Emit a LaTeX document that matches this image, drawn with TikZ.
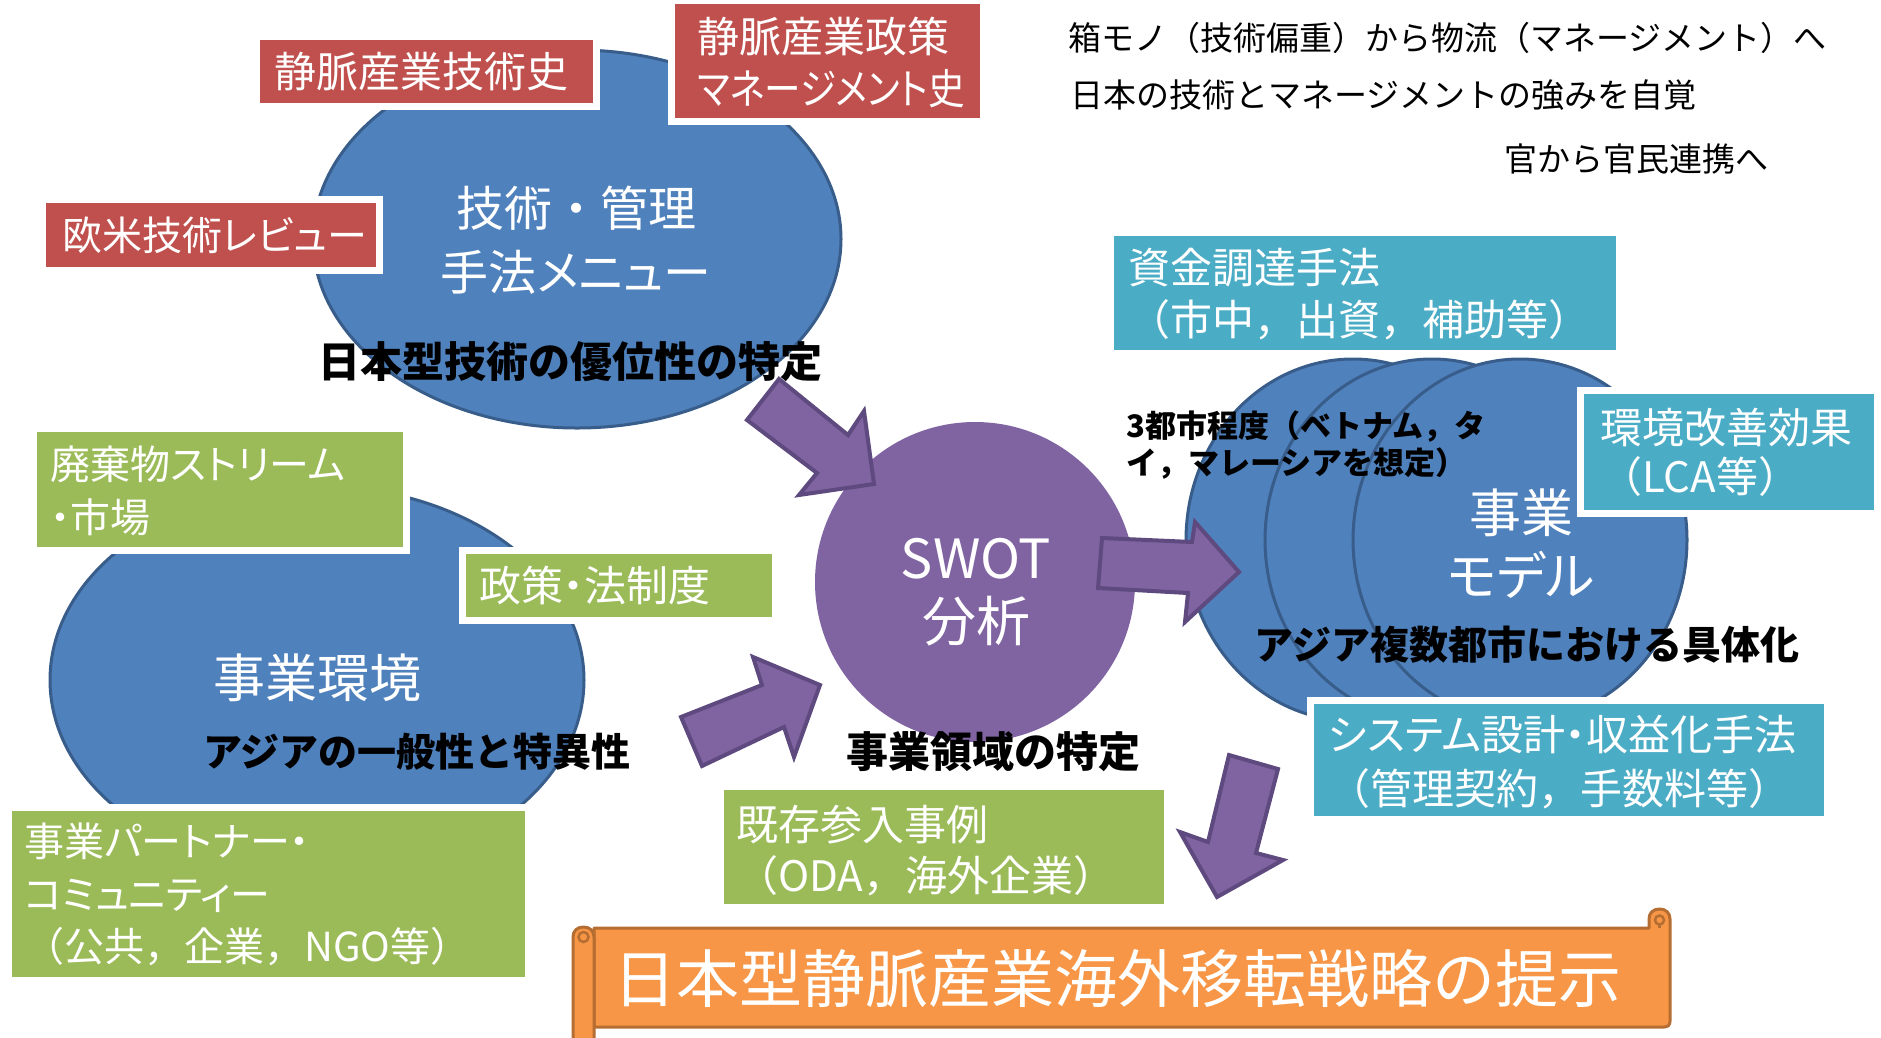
\documentclass[tikz,border=0pt]{standalone}
\usepackage{fontspec}
\setmainfont{Noto Sans CJK JP}
\newfontfamily\jpp[RawFeature=+palt]{Noto Sans CJK JP}
\newfontfamily\jpn[RawFeature=+palt,FakeStretch=0.87]{Noto Sans CJK JP}
\usetikzlibrary{shapes.geometric}
\definecolor{cblue}{RGB}{79,129,189}
\definecolor{cblueline}{RGB}{56,93,138}
\definecolor{cred}{RGB}{192,80,77}
\definecolor{cgreen}{RGB}{155,187,89}
\definecolor{ccyan}{RGB}{75,172,198}
\definecolor{cpurple}{RGB}{128,100,162}
\definecolor{cpurpleline}{RGB}{94,74,126}
\definecolor{corange}{RGB}{247,150,70}
\definecolor{corangeline}{RGB}{182,109,49}
\newcommand\fsz[2]{\fontsize{#1pt}{#2pt}\selectfont}
\begin{document}
\begin{tikzpicture}[x=1pt,y=-1pt,
  blueell/.style={ellipse, fill=cblue, draw=cblueline, line width=3pt, inner sep=0pt},
  boxbase/.style={rectangle, inner sep=0pt, preaction={draw=white, line width=14pt}},
  redbox/.style={boxbase, fill=cred},
  greenbox/.style={boxbase, fill=cgreen},
  cyanbox/.style={boxbase, fill=ccyan},
  wtxt/.style={text=white, inner sep=0pt, anchor=west, align=left},
  ktxt/.style={text=black, inner sep=0pt, anchor=west},
  btxt/.style={text=black, inner sep=0pt},
  blockarrow/.style={fill=cpurple, draw=cpurpleline, line width=4pt, line join=miter},
  banner/.style={fill=corange, draw=corangeline, line width=3pt, line join=round}
]
\useasboundingbox (0,0) rectangle (1881,1037);

% --- large shapes
\node[blueell, minimum width=528pt, minimum height=378pt] (tech) at (577,239) {};
\node[blueell, minimum width=534pt, minimum height=388pt] (env) at (317,680) {};
\node[blueell, minimum width=334pt, minimum height=362pt] (bm1) at (1353,540) {};
\node[blueell, minimum width=334pt, minimum height=362pt] (bm2) at (1432,540) {};
\node[blueell, minimum width=334pt, minimum height=362pt] (bm3) at (1520,540) {};
\node[circle, fill=cpurple, minimum size=320pt, inner sep=0pt] (swot) at (975,582) {};

% --- block arrows
\filldraw[blockarrow] (747,420) -- (779,379) -- (848,435) -- (864,411) -- (874,484) -- (799,495) -- (817,473) -- cycle;
\filldraw[blockarrow] (681,717) -- (762,685) -- (753,657) -- (820,685) -- (794,757) -- (784,727) -- (702,766) -- cycle;
\filldraw[blockarrow] (1102,538) -- (1192,542) -- (1195,522) -- (1239,572) -- (1185,622) -- (1188,593) -- (1098,588) -- cycle;
\filldraw[blockarrow] (1229,755) -- (1278,769) -- (1256,853) -- (1283,860) -- (1217,897) -- (1180,832) -- (1208,842) -- cycle;

% --- labels on shapes
\node[wtxt, anchor=center, align=center, font=\fsz{48}{64}] (techt) at (576,240) {技術・管理\\{\jpp 手法メニュー}};
\node[btxt, font=\fsz{42}{50}\bfseries] (techsub) at (570,362) {日本型技術の優位性の特定};
\node[wtxt, anchor=center, font=\fsz{52}{60}] (envt) at (317,678) {事業環境};
\node[btxt, font=\fsz{39}{46}\bfseries] (envsub) at (417,752) {アジアの一般性と特異性};
\node[wtxt, anchor=center, align=center, font=\fsz{54}{63}] (swott) at (976,592) {SWOT\\分析};
\node[btxt, font=\fsz{42}{50}\bfseries] (swotsub) at (993,752) {事業領域の特定};
\node[wtxt, anchor=center, align=center, font=\fsz{52}{63}] (bmt) at (1521,544) {事業\\{\jpp モデル}};
\node[btxt, anchor=west, align=left, font=\fsz{31}{37}\bfseries] (bmnote) at (1126,445) {3都市程度（ベトナム，タ\\イ，マレーシアを想定）};
\node[btxt, font=\fsz{39}{46}\bfseries] (bmsub) at (1527,645) {アジア複数都市における具体化};

% --- top right notes
\node[ktxt, font=\fsz{33}{40}] (note1) at (1068,38) {箱モノ（技術偏重）から物流（マネージメント）へ};
\node[ktxt, font=\fsz{33}{40}] (note2) at (1070,95) {日本の技術とマネージメントの強みを自覚};
\node[ktxt, font=\fsz{33}{40}] (note3) at (1504,159) {官から官民連携へ};

% --- red boxes
\node[redbox, minimum width=333pt, minimum height=63pt] (rA) at (426.5,71.5) {};
\node[wtxt, font=\fsz{42}{52}] (rAt) at (274,72) {静脈産業技術史};
\node[redbox, minimum width=305pt, minimum height=114pt] (rB) at (827.5,61) {};
\node[wtxt, font=\fsz{42}{52}] (rBt) at (697,62) {静脈産業政策\\{\jpn マネージメント史}};
\node[redbox, minimum width=330pt, minimum height=64pt] (rC) at (211,235) {};
\node[wtxt, font=\fsz{40}{50}] (rCt) at (62,235) {\jpp 欧米技術レビュー};

% --- cyan boxes
\node[cyanbox, minimum width=502pt, minimum height=114pt] (cA) at (1365,293) {};
\node[wtxt, font=\fsz{42}{52}] (cAt) at (1128,294) {資金調達手法\\（市中，出資，補助等）};
\node[cyanbox, minimum width=290pt, minimum height=116pt] (cB) at (1729,452) {};
\node[wtxt, font=\fsz{42}{49}] (cBt) at (1600,452.5) {環境改善効果\\（LCA等）};
\node[cyanbox, minimum width=510pt, minimum height=112pt] (cC) at (1569,760) {};
\node[wtxt, font=\fsz{42}{54}] (cCt) at (1328,762) {{\jpp システム設計・収益化手法}\\（管理契約，手数料等）};

% --- green boxes
\node[greenbox, minimum width=366pt, minimum height=115pt] (gA) at (220,489.5) {};
\node[wtxt, font=\fsz{40}{53}] (gAt) at (50,490.5) {{\jpp 廃棄物ストリーム}\\{\jpp ・市場}};
\node[greenbox, minimum width=306pt, minimum height=63pt] (gB) at (619,585.5) {};
\node[wtxt, font=\fsz{42}{52}] (gBt) at (479,585) {\jpp 政策・法制度};
\node[greenbox, minimum width=513pt, minimum height=166pt] (gC) at (268.5,894) {};
\node[wtxt, font=\fsz{40}{52.5}] (gCt) at (24,894.5) {{\jpp 事業パートナー・}\\{\jpp コミュニティー}\\（公共，企業，NGO等）};
\node[greenbox, minimum width=440pt, minimum height=114pt] (gD) at (944,847) {};
\node[wtxt, font=\fsz{42}{51}] (gDt) at (736,850.5) {既存参入事例\\（ODA，海外企業）};

% --- banner (horizontal scroll)
\filldraw[banner] (594,1027) -- (594,928) -- (1649,928) -- (1649,919)
  .. controls (1649,913) and (1653,909) .. (1659.5,909)
  .. controls (1666,909) and (1670,913) .. (1670,919) -- (1670,1021)
  .. controls (1670,1025) and (1668,1027) .. (1664,1027) -- cycle;
\draw[corangeline, line width=2.5pt] (1659.5,920) circle[radius=4.5pt];
\draw[corangeline, line width=2.5pt] (1659.5,924.5) -- (1659.5,928);
\filldraw[banner] (573,1045) -- (573,937) .. controls (573,931) and (577,927) .. (583.5,927)
  .. controls (590,927) and (594,931) .. (594,937) -- (594,1045);
\draw[corangeline, line width=2.5pt] (583.5,937) circle[radius=5pt];
\node[wtxt, anchor=center, font=\fsz{63}{70}] (bannert) at (1117,979) {日本型静脈産業海外移転戦略の提示};
\end{tikzpicture}
\end{document}
